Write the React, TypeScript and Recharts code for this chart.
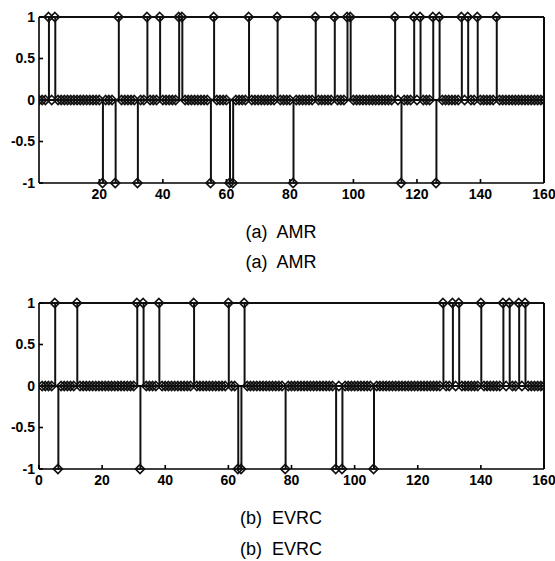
import {
  ComposedChart,
  Bar,
  Scatter,
  XAxis,
  YAxis,
  CartesianGrid,
  ReferenceLine,
} from 'recharts'

// sample indices where the stem is +1 / -1, everything else is 0
const amrUp = [4, 6, 26, 35, 39, 45, 46, 56, 67, 76, 88, 94, 98, 99, 113, 119, 121, 125, 127, 134, 136, 139, 145]
const amrDown = [21, 25, 32, 55, 61, 62, 81, 115, 126]
const evrcUp = [5, 12, 31, 33, 38, 49, 60, 65, 128, 131, 133, 140, 147, 149, 152, 154]
const evrcDown = [6, 32, 63, 64, 78, 94, 96, 106]

const amrXTicks = [20, 40, 60, 80, 100, 120, 140, 160]
const evrcXTicks = [0, 20, 40, 60, 80, 100, 120, 140, 160]
const yTicks = [-1, -0.5, 0, 0.5, 1]

const N = 160

function buildSeries(up: number[], down: number[]) {
  const rows = []
  for (let i = 1; i <= N; i++) {
    rows.push({ x: i, y: up.includes(i) ? 1 : down.includes(i) ? -1 : 0 })
  }
  return rows
}

const font = '"Liberation Sans", Arial, sans-serif'
const tickStyle = { fontSize: 14, fontWeight: 700, fill: '#000', fontFamily: font }

// stem marker: open diamond with a bar through it
const Diamond = (props: any) => {
  const { cx, cy } = props
  if (cx == null || cy == null) return null
  const r = 4.5
  return (
    <g>
      <polygon
        points={`${cx},${cy - r} ${cx + r},${cy} ${cx},${cy + r} ${cx - r},${cy}`}
        fill="none"
        stroke="#111"
        strokeWidth={1.7}
      />
      <line x1={cx - r} y1={cy} x2={cx + r} y2={cy} stroke="#111" strokeWidth={1.5} />
    </g>
  )
}

function StemPlot({ data, xDomain, xTicks }: { data: any[]; xDomain: number[]; xTicks: number[] }) {
  return (
    <ComposedChart
      width={555}
      height={206}
      data={data}
      margin={{ top: 17, right: 11, left: 9, bottom: 0 }}
    >
      <CartesianGrid
        horizontalValues={[1]}
        verticalValues={[xDomain[1]]}
        stroke="#000"
        strokeWidth={1.6}
      />
      <XAxis
        dataKey="x"
        type="number"
        domain={xDomain}
        ticks={xTicks}
        height={23}
        stroke="#000"
        strokeWidth={1.6}
        tickSize={-4}
        tickMargin={10}
        tick={tickStyle}
        allowDataOverflow
      />
      <YAxis
        type="number"
        domain={[-1, 1]}
        ticks={yTicks}
        width={30}
        stroke="#000"
        strokeWidth={1.6}
        tickSize={-4}
        tickMargin={8}
        tick={tickStyle}
        tickFormatter={(v: number) => String(v)}
      />
      <ReferenceLine y={1} stroke="#000" strokeWidth={1.6} ifOverflow="visible" />
      <ReferenceLine x={xDomain[1]} stroke="#000" strokeWidth={1.6} ifOverflow="visible" />
      <ReferenceLine y={0} stroke="#000" strokeWidth={2} />
      <Bar dataKey="y" barSize={2} fill="#111" isAnimationActive={false} />
      <Scatter dataKey="y" shape={<Diamond />} isAnimationActive={false} />
    </ComposedChart>
  )
}

const captionStyle: React.CSSProperties = {
  position: 'absolute',
  left: 0,
  width: 562,
  textAlign: 'center',
  fontFamily: font,
  fontSize: 18,
  lineHeight: '20px',
  color: '#000',
}

export default function App() {
  const amr = buildSeries(amrUp, amrDown)
  const evrc = buildSeries(evrcUp, evrcDown)
  return (
    <div style={{ position: 'absolute', left: 0, top: 0, width: 555, height: 561, background: '#fff' }}>
      <div style={{ position: 'absolute', left: 0, top: 0 }}>
        <StemPlot data={amr} xDomain={[1, 160]} xTicks={amrXTicks} />
      </div>
      <div style={{ ...captionStyle, top: 222 }}>(a)&nbsp; AMR</div>
      <div style={{ ...captionStyle, top: 252 }}>(a)&nbsp; AMR</div>
      <div style={{ position: 'absolute', left: 0, top: 286 }}>
        <StemPlot data={evrc} xDomain={[0, 160]} xTicks={evrcXTicks} />
      </div>
      <div style={{ ...captionStyle, top: 508 }}>(b)&nbsp; EVRC</div>
      <div style={{ ...captionStyle, top: 539 }}>(b)&nbsp; EVRC</div>
    </div>
  )
}
